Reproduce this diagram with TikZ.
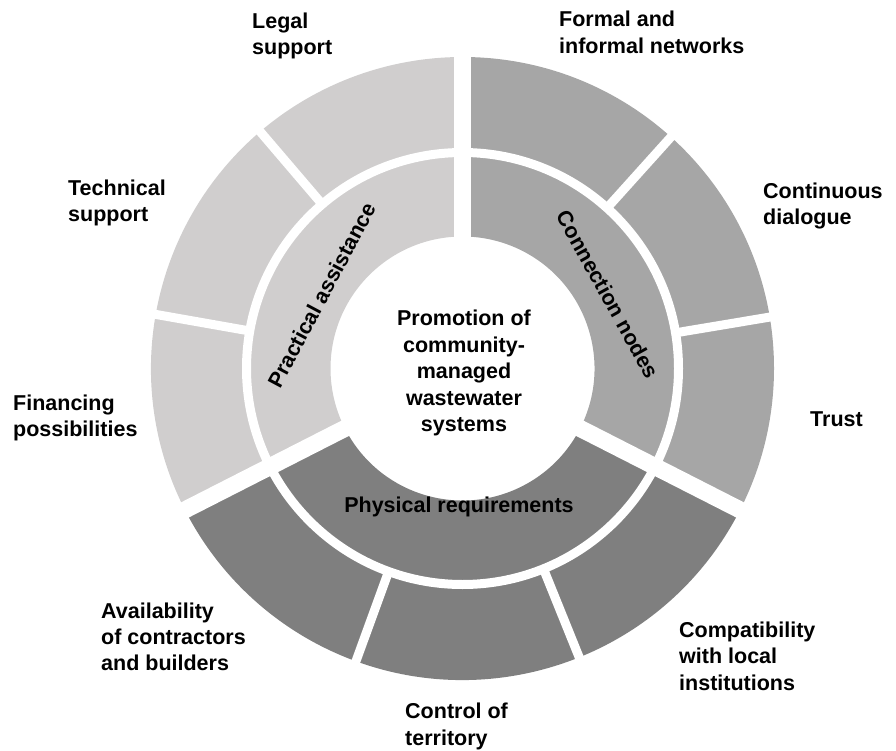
\documentclass[tikz,border=0pt]{standalone}
\usepackage{fontspec}
\setmainfont{Liberation Sans}
\usetikzlibrary{calc}
\definecolor{assistgray}{HTML}{D0CECE}
\definecolor{nodegray}{HTML}{A6A6A6}
\definecolor{physgray}{HTML}{7F7F7F}
\tikzstyle{lbl}=[inner sep=0pt,font=\fontsize{21.5}{26.3}\selectfont\bfseries,align=left,anchor=base west]
\tikzstyle{hub}=[inner sep=0pt,font=\fontsize{21.5}{26.5}\selectfont\bfseries,align=center,anchor=base]
\tikzstyle{gap}=[white,line width=9pt]
\def\rin{132}
\def\rout{311.5}
\def\rgap{216}
\def\sector#1#2#3{\fill[#1] (#2:\rin pt) arc[start angle=#2,end angle=#3,radius=\rin pt]
  -- (#3:\rout pt) arc[start angle=#3,end angle=#2,radius=\rout pt] -- cycle}

\begin{document}
\begin{tikzpicture}[x=1pt,y=1pt]
      \useasboundingbox (0,0) rectangle (896,-751);
      \coordinate (C) at (462.5,-368.5);

      % RINGS
      \begin{scope}[shift={(C)}]
        \sector{assistgray}{90}{207};
        \sector{nodegray}{-27}{90};
        \sector{physgray}{207}{333};
        \draw[gap] (0,0) circle[radius=\rgap pt];
        \foreach \a in {130.5,170,48,9.5,250,292}
          \draw[gap] (\a:\rgap pt) -- (\a:320pt);
        \foreach \a in {90,207,333}
          \draw[gap,line width=17pt] (0,0) -- (\a:320pt);
      \end{scope}

      % RING TITLES (base = last line)
      \node[hub] (promo) at (464,-431.7)
        {Promotion of\\community-\\managed\\wastewater\\systems};
      \node[hub,anchor=center,rotate=62] (assist) at ($(C)+(152.5:159pt)$) {Practical assistance};
      \node[hub,anchor=center,rotate=-61] (conn) at ($(C)+(27.1:163pt)$) {Connection nodes};
      \node[hub] (phys) at (459,-512) {Physical requirements};

      % LABELS
      \node[lbl] (legal) at (252,-55) {Legal\\support};
      \node[lbl] (formal) at (559,-53.3) {Formal and\\informal networks};
      \node[lbl] (tech) at (68,-221.7) {Technical\\support};
      \node[lbl] (dialog) at (763,-225) {Continuous\\dialogue};
      \node[lbl] (finance) at (13,-436.7) {Financing\\possibilities};
      \node[lbl] (trust) at (810,-426) {Trust};
      \node[lbl] (avail) at (101,-670.7) {Availability\\of contractors\\and builders};
      \node[lbl] (compat) at (679,-690) {Compatibility\\with local\\institutions};
      \node[lbl] (control) at (405,-745) {Control of\\territory};

    \end{tikzpicture}
\end{document}
